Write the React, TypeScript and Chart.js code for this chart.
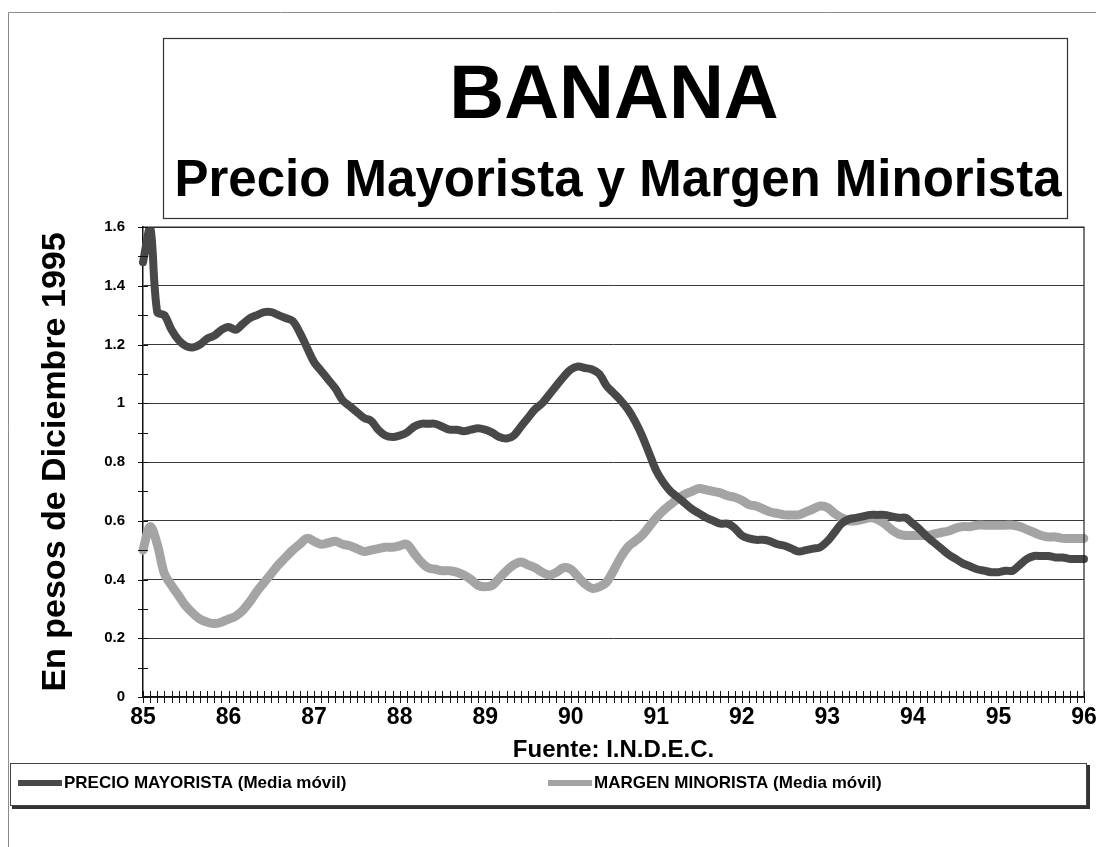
import { useEffect, useRef } from "react";
import { Chart, registerables } from "chart.js";

Chart.register(...registerables);

const FONT = '"Liberation Sans", Arial, Helvetica, sans-serif';

const TITLE = "BANANA";
const SUBTITLE = "Precio Mayorista y Margen Minorista";
const Y_TITLE = "En pesos de Diciembre 1995";
const X_TITLE = "Fuente: I.N.D.E.C.";

const YEARS = ["85", "86", "87", "88", "89", "90", "91", "92", "93", "94", "95", "96"];
const Y_TICK_LABELS = ["0", "0.2", "0.4", "0.6", "0.8", "1", "1.2", "1.4", "1.6"];

const SERIES_NAMES = ["PRECIO MAYORISTA (Media móvil)", "MARGEN MINORISTA (Media móvil)"];

// Monthly values, Jan-85 .. Jan-96
const PRECIO_MAYORISTA = [
  1.48, 1.6, 1.31, 1.3, 1.25, 1.215, 1.195, 1.19, 1.2, 1.22, 1.23, 1.25,
  1.26, 1.25, 1.27, 1.29, 1.3, 1.31, 1.31, 1.3, 1.29, 1.28, 1.24, 1.19,
  1.14, 1.11, 1.08, 1.05, 1.01, 0.99, 0.97, 0.95, 0.94, 0.91, 0.89, 0.885,
  0.89, 0.9, 0.92, 0.93, 0.93, 0.93, 0.92, 0.91, 0.91, 0.905, 0.91, 0.915,
  0.91, 0.9, 0.885, 0.88, 0.89, 0.92, 0.95, 0.98, 1.0, 1.03, 1.06, 1.09,
  1.115, 1.125, 1.12, 1.115, 1.1, 1.06, 1.035, 1.01, 0.98, 0.94, 0.89, 0.83,
  0.77, 0.73, 0.7, 0.68, 0.66, 0.64, 0.625, 0.61, 0.6, 0.59, 0.59, 0.575,
  0.55, 0.54, 0.535, 0.535, 0.53, 0.52, 0.515, 0.505, 0.495, 0.5, 0.505, 0.51,
  0.53, 0.56, 0.59, 0.605, 0.61, 0.615, 0.62, 0.62, 0.62, 0.615, 0.61, 0.61,
  0.59, 0.57, 0.545, 0.525, 0.505, 0.485, 0.47, 0.455, 0.445, 0.435, 0.43, 0.425,
  0.425, 0.43, 0.43, 0.45, 0.47, 0.48, 0.48, 0.48, 0.475, 0.475, 0.47, 0.47,
  0.47,
];

const MARGEN_MINORISTA = [
  0.5, 0.58, 0.52, 0.42, 0.38, 0.345, 0.31, 0.285, 0.265, 0.255, 0.25, 0.255,
  0.265, 0.275, 0.295, 0.325, 0.36, 0.39, 0.42, 0.45, 0.475, 0.5, 0.52, 0.54,
  0.53, 0.52, 0.525, 0.53, 0.52, 0.515, 0.505, 0.495, 0.5, 0.505, 0.51, 0.51,
  0.515, 0.52, 0.49, 0.46, 0.44, 0.435, 0.43, 0.43, 0.425, 0.415, 0.4, 0.38,
  0.375, 0.38, 0.405, 0.43, 0.45, 0.46, 0.45, 0.44, 0.425, 0.415, 0.425, 0.44,
  0.435, 0.41, 0.385, 0.37, 0.375, 0.39, 0.43, 0.475, 0.51, 0.53, 0.55, 0.58,
  0.61, 0.635, 0.655, 0.675, 0.69, 0.7, 0.71, 0.705, 0.7, 0.695, 0.685, 0.68,
  0.67, 0.655, 0.65, 0.64, 0.63, 0.625, 0.62, 0.62, 0.62, 0.63, 0.64, 0.65,
  0.645, 0.625, 0.61, 0.6, 0.6, 0.605, 0.61, 0.605, 0.59, 0.57, 0.555, 0.55,
  0.55, 0.55, 0.55, 0.555, 0.56, 0.565, 0.575, 0.58, 0.58, 0.585, 0.585, 0.585,
  0.585, 0.585, 0.585, 0.58, 0.57, 0.56, 0.55, 0.545, 0.545, 0.54, 0.54, 0.54,
  0.54,
];

const SERIES_COLORS = ["#484848", "#a4a4a4"];

// Category labels: one per month, year label on each January
const MONTH_LABELS: string[] = [];
for (let i = 0; i < YEARS.length - 1; i++) {
  for (let m = 0; m < 12; m++) MONTH_LABELS.push(m === 0 ? YEARS[i] : "");
}
MONTH_LABELS.push(YEARS[YEARS.length - 1]);

const decorPlugin = {
  id: "decor",
  beforeDraw(chart: any) {
    const ctx = chart.ctx;
    ctx.save();
    ctx.fillStyle = "#ffffff";
    ctx.fillRect(0, 0, chart.width, chart.height);
    ctx.restore();
  },
  afterDraw(chart: any) {
    const { ctx, chartArea: a, scales } = chart;
    ctx.save();
    // outer frame (top and left edges only)
    ctx.strokeStyle = "#8c8c8c";
    ctx.lineWidth = 1;
    ctx.beginPath();
    ctx.moveTo(8.5, 847);
    ctx.lineTo(8.5, 12.5);
    ctx.lineTo(1096, 12.5);
    ctx.stroke();

    // title box
    ctx.strokeStyle = "#333";
    ctx.lineWidth = 1.2;
    ctx.strokeRect(163.5, 38.5, 904, 180);

    ctx.fillStyle = "#000";
    ctx.textAlign = "center";
    ctx.textBaseline = "alphabetic";
    ctx.font = `bold 76px ${FONT}`;
    ctx.fillText(TITLE, 614, 118);
    ctx.font = `bold 51px ${FONT}`;
    ctx.fillText(SUBTITLE, 618, 196);

    // plot frame top/right
    ctx.strokeStyle = "#222";
    ctx.lineWidth = 1.2;
    ctx.beginPath();
    ctx.moveTo(a.left, a.top);
    ctx.lineTo(a.right, a.top);
    ctx.lineTo(a.right, a.bottom);
    ctx.stroke();

    // tick marks crossing the axes
    ctx.strokeStyle = "#111";
    ctx.lineWidth = 1;
    const xs = scales.x;
    ctx.beginPath();
    for (let i = 0; i < xs.ticks.length; i++) {
      const px = Math.round(xs.getPixelForTick(i)) + 0.5;
      ctx.moveTo(px, a.bottom - 6);
      ctx.lineTo(px, a.bottom + 6);
    }
    const ys = scales.y;
    for (let i = 0; i < ys.ticks.length; i++) {
      const py = Math.round(ys.getPixelForTick(i)) + 0.5;
      ctx.moveTo(a.left - 5, py);
      ctx.lineTo(a.left + 5, py);
    }
    ctx.stroke();

    // legend box with shadow
    ctx.strokeStyle = "#444";
    ctx.lineWidth = 1;
    ctx.strokeRect(10.5, 763.5, 1076, 42);
    ctx.fillStyle = "#333";
    ctx.fillRect(12, 806, 1078, 3);
    ctx.fillRect(1087, 765, 3, 44);

    const entries = [
      { x: 18, tx: 64 },
      { x: 548, tx: 594 },
    ];
    ctx.font = `bold 17px ${FONT}`;
    ctx.textAlign = "left";
    ctx.textBaseline = "middle";
    chart.data.datasets.forEach((ds: any, i: number) => {
      const e = entries[i];
      ctx.fillStyle = ds.borderColor;
      ctx.fillRect(e.x, 780, 44, 6);
      ctx.fillStyle = "#000";
      ctx.fillText(ds.label, e.tx, 783);
    });
    ctx.restore();
  },
};

export default function App() {
  const ref = useRef<HTMLCanvasElement>(null);

  useEffect(() => {
    if (!ref.current) return;
    Chart.defaults.font.family = FONT;
    Chart.defaults.color = "#000";
    const chart = new Chart(ref.current, {
      type: "line",
      data: {
        labels: MONTH_LABELS,
        datasets: [
          {
            label: SERIES_NAMES[0],
            data: PRECIO_MAYORISTA,
            borderColor: SERIES_COLORS[0],
            backgroundColor: SERIES_COLORS[0],
            borderWidth: 8,
            pointRadius: 0,
            tension: 0.35,
            borderCapStyle: "round",
            borderJoinStyle: "round",
          },
          {
            label: SERIES_NAMES[1],
            data: MARGEN_MINORISTA,
            borderColor: SERIES_COLORS[1],
            backgroundColor: SERIES_COLORS[1],
            borderWidth: 9,
            pointRadius: 0,
            tension: 0.35,
            borderCapStyle: "round",
            borderJoinStyle: "round",
          },
        ],
      },
      options: {
        animation: false,
        responsive: false,
        devicePixelRatio: 1,
        layout: { padding: { left: 10, top: 227, right: 12, bottom: 77 } },
        plugins: {
          legend: { display: false },
          title: { display: false },
          tooltip: { enabled: false },
        },
        scales: {
          x: {
            type: "category",
            offset: false,
            grid: { display: false, drawTicks: false },
            border: { display: true, color: "#111", width: 1.5 },
            ticks: {
              autoSkip: false,
              maxRotation: 0,
              minRotation: 0,
              padding: 7,
              font: { size: 23, weight: "bold" },
              color: "#000",
            },
            title: {
              display: true,
              text: X_TITLE,
              font: { size: 24, weight: "bold", lineHeight: 1 },
              color: "#000",
              padding: { top: 0, bottom: 7.5 },
            },
            afterFit: (s: any) => {
              s.height = 73;
              s.paddingLeft = 0;
              s.paddingRight = 0;
            },
          },
          y: {
            min: 0,
            max: 1.6,
            ticks: {
              stepSize: 0.1,
              padding: 18,
              font: { size: 15, weight: "bold" },
              color: "#000",
              callback: (v: any) => {
                const k = Math.round(Number(v) * 10);
                return k % 2 === 0 ? Y_TICK_LABELS[k / 2] : "";
              },
            },
            grid: {
              drawTicks: false,
              color: (c: any) =>
                Math.round((c.tick ? c.tick.value : 0) * 10) % 2 === 0 ? "#3a3a3a" : "rgba(0,0,0,0)",
              lineWidth: 1,
            },
            border: { display: true, color: "#111", width: 1.5 },
            title: {
              display: true,
              text: Y_TITLE,
              font: { size: 34, weight: "bold", lineHeight: 1 },
              color: "#000",
              padding: { top: 28.5, bottom: 0 },
            },
            afterFit: (s: any) => {
              s.width = 133;
              s.paddingTop = 0;
              s.paddingBottom = 0;
            },
          },
        },
      },
      plugins: [decorPlugin],
    } as any);
    return () => chart.destroy();
  }, []);

  return (
    <div style={{ position: "absolute", left: 0, top: 0, width: 1096, height: 847, background: "#fff" }}>
      <canvas ref={ref} width={1096} height={847} style={{ display: "block", width: 1096, height: 847 }} />
    </div>
  );
}
